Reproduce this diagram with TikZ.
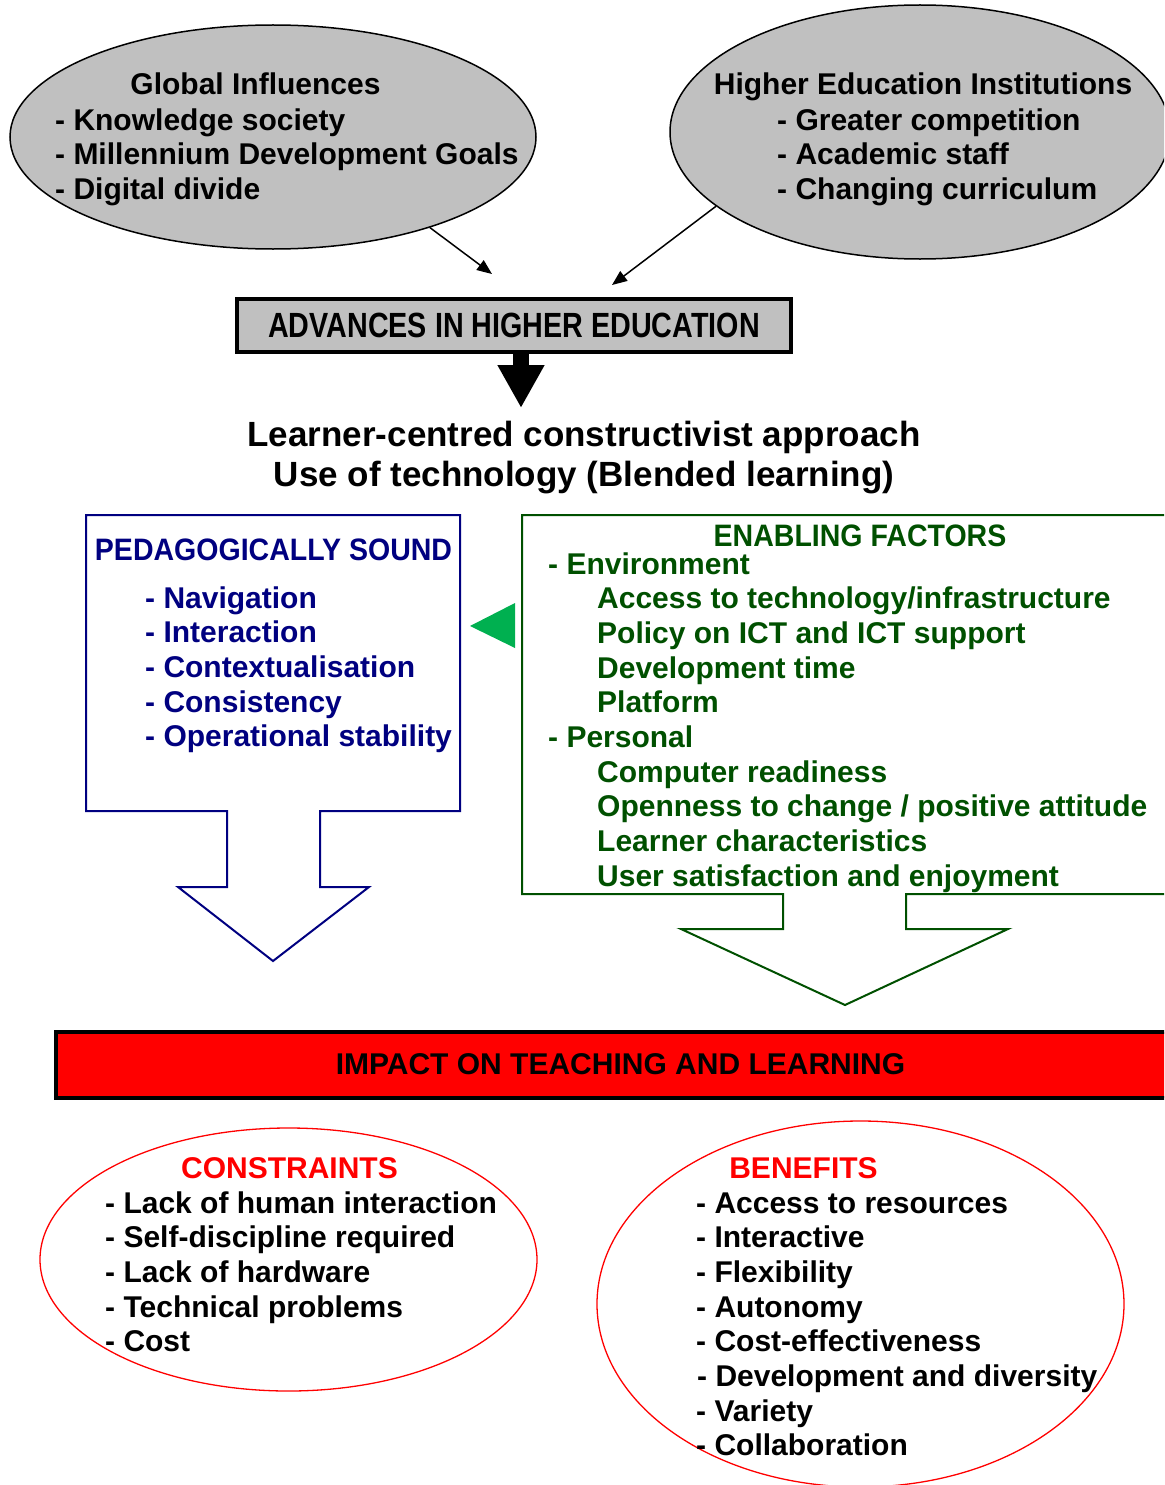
\documentclass[tikz,border=0pt]{standalone}
\usepackage{fontspec}
\setmainfont{Liberation Sans}
\newfontfamily\narrowfont[FakeStretch=0.82]{Liberation Sans}
\newfontfamily\semifont[FakeStretch=0.92]{Liberation Sans}
\usetikzlibrary{arrows.meta, shapes.geometric}

\definecolor{ovalgray}{RGB}{192,192,192}
\definecolor{pedblue}{RGB}{0,0,128}
\definecolor{enagreen}{RGB}{0,80,0}
\definecolor{tipgreen}{RGB}{0,176,80}

\tikzset{
  txt/.style={inner sep=0pt, font=\fontsize{30}{34.7}\selectfont\bfseries, align=left, anchor=base west},
  ttl/.style={inner sep=0pt, font=\fontsize{30}{34.7}\selectfont\bfseries, anchor=base},
  oval/.style={ellipse, draw, inner sep=0pt},
  thinarrow/.style={line width=1.5pt, -{Triangle[length=15pt, width=12pt]}}
}

\begin{document}
\begin{tikzpicture}[x=1pt, y=-1pt]
  \useasboundingbox (0,0) rectangle (1164,1485);
  \clip (0,0) rectangle (1164,1485);

  % influences (list nodes sit on the baseline of their last line)
  \node[oval, fill=ovalgray, line width=1.5pt, minimum width=526pt, minimum height=224pt] (glob) at (273,137) {};
  \node[oval, fill=ovalgray, line width=1.5pt, minimum width=500pt, minimum height=254pt] (hei) at (920,132) {};
  \node[ttl] (globt) at (255.5,95) {Global Influences};
  \node[txt] (globl) at (55,199.4) {- Knowledge society\\- Millennium Development Goals\\- Digital divide};
  \node[ttl] (heit) at (923,95) {Higher Education Institutions};
  \node[txt] (heil) at (777,199.4) {- Greater competition\\- Academic staff\\- Changing curriculum};

  \coordinate (g1) at (492,274);
  \coordinate (h1) at (612,285);
  \draw[thinarrow] (glob.-30) -- (g1);
  \draw[thinarrow] (hei.200) -- (h1);

  \node[draw, line width=4pt, fill=ovalgray, minimum width=554pt, minimum height=53pt, inner sep=0pt,
        font=\fontsize{35}{40}\selectfont\bfseries\narrowfont] (adv) at (514,325.5) {ADVANCES IN HIGHER EDUCATION};
  \coordinate (a2) at (521,408);
  \draw[line width=16pt, -{Triangle[length=43pt, width=44pt]}] (adv.south -| a2) -- (a2);

  \node[inner sep=0pt, align=center, anchor=base, font=\fontsize{35}{40}\selectfont\bfseries] (lrn) at (584,486)
    {Learner-centred constructivist approach\\Use of technology (Blended learning)};

  % pedagogically sound
  \draw[pedblue, line width=2pt] (86,515) -- (460,515) -- (460,811) -- (320,811) -- (320,887) -- (369,887)
    -- (273,961) -- (178,887) -- (227,887) -- (227,811) -- (86,811) -- cycle;
  \node[ttl, pedblue, font=\fontsize{31}{34.7}\selectfont\bfseries\semifont] (pedt) at (273.5,560) {PEDAGOGICALLY SOUND};
  \node[txt, pedblue] (pedl) at (145,746.8) {- Navigation\\- Interaction\\- Contextualisation\\- Consistency\\- Operational stability};

  \fill[tipgreen] (470,626) -- (515,603) -- (515,648) -- cycle;

  % enabling factors
  \draw[enagreen, line width=2pt] (522,515) -- (1180,515) -- (1180,894) -- (906,894) -- (906,929) -- (1008,929)
    -- (845,1005) -- (681,929) -- (783,929) -- (783,894) -- (522,894) -- cycle;
  \node[ttl, enagreen, font=\fontsize{31}{34.7}\selectfont\bfseries\semifont] (enat) at (860,546) {ENABLING FACTORS};
  \node[txt, enagreen] (envl) at (548,574) {- Environment};
  \node[txt, enagreen] (envi) at (597,712.8) {Access to technology/infrastructure\\Policy on ICT and ICT support\\Development time\\Platform};
  \node[txt, enagreen] (perl) at (548,747.5) {- Personal};
  \node[txt, enagreen] (peri) at (597,886.1) {Computer readiness\\Openness to change / positive attitude\\Learner characteristics\\User satisfaction and enjoyment};

  % impact
  \draw[fill=red, line width=4pt] (56,1032) rectangle (1180,1098);
  \node[inner sep=0pt, font=\fontsize{30}{34.7}\selectfont\bfseries] (imp) at (620.5,1064) {IMPACT ON TEACHING AND LEARNING};

  % constraints and benefits
  \node[oval, draw=red, line width=1.3pt, minimum width=497pt, minimum height=263pt] (con) at (288.5,1259.5) {};
  \node[oval, draw=red, line width=1.3pt, minimum width=527pt, minimum height=366pt] (ben) at (860.5,1304) {};
  \node[ttl, red] (cont) at (289.5,1178) {CONSTRAINTS};
  \node[txt] (conl) at (105,1351.8) {- Lack of human interaction\\- Self-discipline required\\- Lack of hardware\\- Technical problems\\- Cost};
  \node[ttl, red] (bent) at (803.5,1178) {BENEFITS};
  \node[txt] (benl) at (696,1455.9) {- Access to resources\\- Interactive\\- Flexibility\\- Autonomy\\- Cost-effectiveness\\\hspace*{1pt}- Development and diversity\\- Variety\\- Collaboration};
\end{tikzpicture}
\end{document}
